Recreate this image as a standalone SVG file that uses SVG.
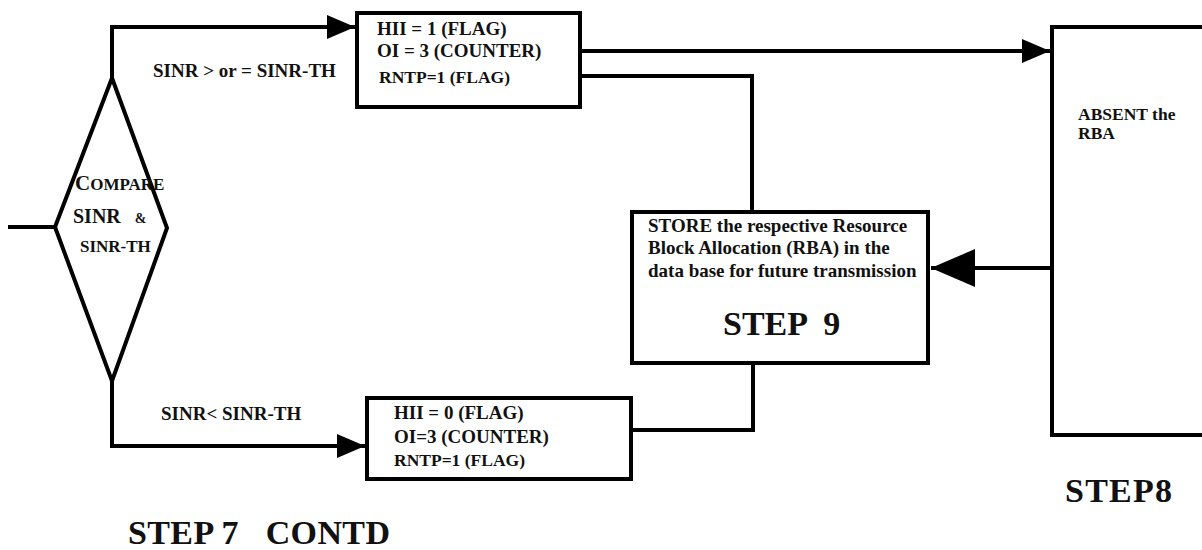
<svg xmlns="http://www.w3.org/2000/svg" width="1202" height="550" viewBox="0 0 1202 550">
<style>
  text { font-family: "Liberation Serif", "Times New Roman", serif; font-weight: bold; fill: #111; }
  .box { fill: #fff; stroke: #000; stroke-width: 4; }
  .ln { fill: none; stroke: #000; stroke-width: 4; }
  .t19 { font-size: 19px; }
  .t17 { font-size: 17.5px; }
  .lbl { font-size: 19px; }
  .big { font-size: 34px; }
</style>
<defs>
  <marker id="ah" markerUnits="userSpaceOnUse" markerWidth="30" markerHeight="24" refX="28" refY="12" orient="auto">
    <path d="M0,0 L28,12 L0,24 Z" fill="#000"/>
  </marker>
  <marker id="ahBig" markerUnits="userSpaceOnUse" markerWidth="46" markerHeight="38" refX="44" refY="19" orient="auto">
    <path d="M0,0 L44,19 L0,38 Z" fill="#000"/>
  </marker>
</defs>
<rect width="1202" height="550" fill="#fff"/>

<g id="connectors">
  <line class="ln" x1="8" y1="227" x2="55" y2="227"/>
  <polyline class="ln" points="112,78 112,27 355,27" marker-end="url(#ah)"/>
  <polyline class="ln" points="112,381 112,446 365,446" marker-end="url(#ah)"/>
  <line class="ln" x1="580" y1="51" x2="1050" y2="51" marker-end="url(#ah)"/>
  <polyline class="ln" points="580,76 752,76 752,212"/>
  <polyline class="ln" points="631,430 753,430 753,363"/>
  <line class="ln" x1="1052" y1="268" x2="931" y2="268" marker-end="url(#ahBig)"/>
</g>

<g id="decision">
  <polygon class="box" points="112,78 167,228 112,381 55,227"/>
  <text x="75" y="190"><tspan font-size="21">C</tspan><tspan font-size="17">OMPARE</tspan></text>
  <text x="73" y="223"><tspan font-size="20">SINR</tspan><tspan font-size="14" dx="14">&amp;</tspan></text>
  <text x="80" y="252" font-size="17">SINR-TH</text>
</g>

<g id="label-ge">
  <text class="lbl" x="153" y="77">SINR &gt; or = SINR-TH</text>
</g>
<g id="label-lt">
  <text class="lbl" x="161" y="420">SINR&lt; SINR-TH</text>
</g>

<g id="box-hi">
  <rect class="box" x="357" y="13" width="223" height="94"/>
  <text class="t19" x="377" y="35">HII = 1 (FLAG)</text>
  <text class="t19" x="377" y="57">OI = 3 (COUNTER)</text>
  <text class="t17" x="379" y="83">RNTP=1 (FLAG)</text>
</g>

<g id="box-lo">
  <rect class="box" x="367" y="398" width="264" height="81"/>
  <text class="t19" x="394" y="419">HII = 0 (FLAG)</text>
  <text class="t19" x="394" y="443">OI=3 (COUNTER)</text>
  <text class="t17" x="394" y="466">RNTP=1 (FLAG)</text>
</g>

<g id="step9">
  <rect class="box" x="632" y="212" width="296" height="151"/>
  <text class="t19" x="648" y="232">STORE the respective Resource</text>
  <text class="t19" x="648" y="254">Block Allocation (RBA) in the</text>
  <text class="t19" x="648" y="277">data base for future transmission</text>
  <text class="big" font-size="33" x="723" y="335" xml:space="preserve">STEP  9</text>
</g>

<g id="step8">
  <rect class="box" x="1052" y="27" width="160" height="408"/>
  <text font-size="17.5" x="1078" y="120">ABSENT the</text>
  <text font-size="17.5" x="1078" y="139">RBA</text>
</g>

<g id="captions">
  <text class="big" font-size="35" x="1065" y="502" textLength="107" lengthAdjust="spacing">STEP8</text>
  <text class="big" x="128" y="544" xml:space="preserve" textLength="262" lengthAdjust="spacing">STEP 7   CONTD</text>
</g>
</svg>
